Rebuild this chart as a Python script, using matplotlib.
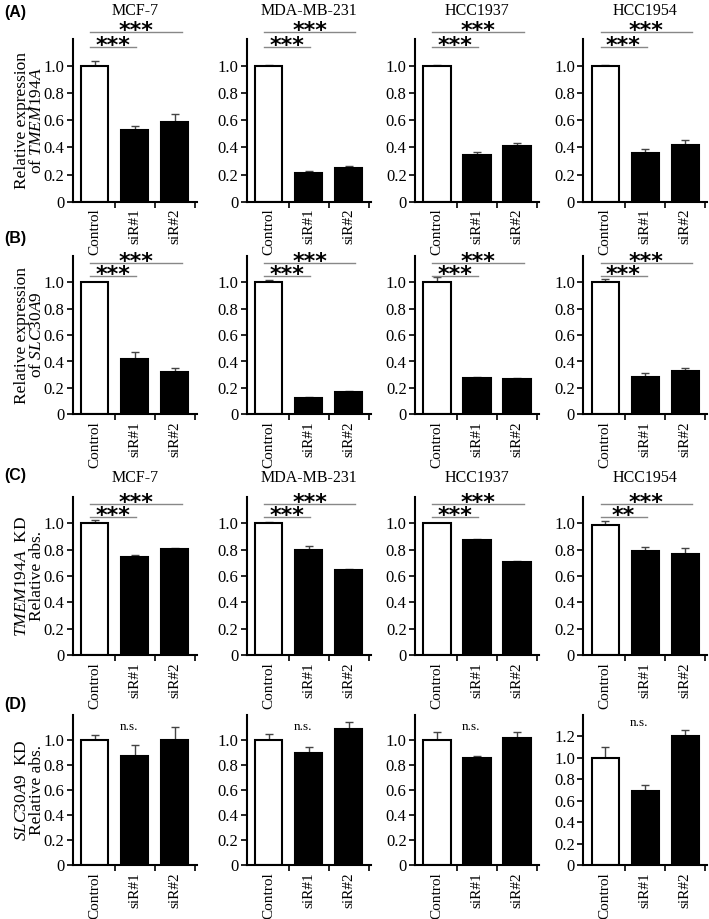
import numpy as np
import matplotlib
matplotlib.use("Agg")
import matplotlib.pyplot as plt
from matplotlib.ticker import FixedLocator, FixedFormatter

plt.rcParams['font.family'] = ['Liberation Serif', 'DejaVu Serif']
plt.rcParams['mathtext.fontset'] = 'custom'
plt.rcParams['mathtext.rm'] = 'Liberation Serif'
plt.rcParams['mathtext.it'] = 'Liberation Serif:italic'

# ---------- data ----------
cell_lines = ["MCF-7", "MDA-MB-231", "HCC1937", "HCC1954"]
groups = ["Control", "siR#1", "siR#2"]

# (A) relative expression of TMEM194A
tmem_expr = [[1.0, 0.53, 0.59], [1.0, 0.215, 0.25], [1.0, 0.345, 0.41], [1.0, 0.36, 0.415]]
tmem_expr_err = [[0.04, 0.03, 0.06], [0.01, 0.01, 0.01], [0.01, 0.02, 0.02], [0.01, 0.025, 0.04]]
# (B) relative expression of SLC30A9
slc_expr = [[1.0, 0.42, 0.32], [1.0, 0.12, 0.167], [1.0, 0.275, 0.265], [1.0, 0.28, 0.33]]
slc_expr_err = [[0.005, 0.05, 0.03], [0.02, 0.01, 0.01], [0.04, 0.01, 0.01], [0.023, 0.03, 0.02]]
# (C) relative abs., TMEM194A KD
tmem_abs = [[1.0, 0.742, 0.805], [1.0, 0.80, 0.645], [1.0, 0.873, 0.709], [0.99, 0.79, 0.77]]
tmem_abs_err = [[0.025, 0.018, 0.01], [0.01, 0.03, 0.01], [0.005, 0.01, 0.008], [0.03, 0.03, 0.04]]
# (D) relative abs., SLC30A9 KD
slc_abs = [[1.0, 0.87, 1.0], [1.0, 0.90, 1.09], [1.0, 0.86, 1.02], [1.0, 0.69, 1.2]]
slc_abs_err = [[0.037, 0.093, 0.107], [0.045, 0.048, 0.053], [0.067, 0.016, 0.048], [0.097, 0.056, 0.063]]

# significance: (control vs siR#1, control vs siR#2)
sig_a = [("***", "***")] * 4
sig_b = [("***", "***")] * 4
sig_c = [("***", "***"), ("***", "***"), ("***", "***"), ("**", "***")]
sig_d = ["n.s."] * 4

rows = [
    dict(letter="(A)", vals=tmem_expr, errs=tmem_expr_err, sig=sig_a, title_pad=17,
         ylabel="Relative expression\nof $\\mathit{TMEM194A}$", bottom=201.7, top=38.9,
         lines=(1.142, 1.248), letter_y=12),
    dict(letter="(B)", vals=slc_expr, errs=slc_expr_err, sig=sig_b, title_pad=None,
         ylabel="Relative expression\nof $\\mathit{SLC30A9}$", bottom=414.3, top=255.9,
         lines=(1.048, 1.144), letter_y=238),
    dict(letter="(C)", vals=tmem_abs, errs=tmem_abs_err, sig=sig_c, title_pad=11,
         ylabel="$\\mathit{TMEM194A}$  KD\nRelative abs.", bottom=655.0, top=497.0,
         lines=(1.05, 1.147), letter_y=475),
    dict(letter="(D)", vals=slc_abs, errs=slc_abs_err, sig=sig_d, title_pad=None,
         ylabel="$\\mathit{SLC30A9}$  KD\nRelative abs.", bottom=865.0, top=715.0,
         lines=None, letter_y=705),
]

W, H = 709, 919
col_left = [72.7, 246.7, 415.0, 583.3]
col_width = 124.0

fig = plt.figure(figsize=(W / 100, H / 100), dpi=100)

x = np.arange(len(groups))
for r, row in enumerate(rows):
    for c, name in enumerate(cell_lines):
        ax = fig.add_axes([col_left[c] / W, 1 - row["bottom"] / H,
                           col_width / W, (row["bottom"] - row["top"]) / H])
        vals = row["vals"][c]
        errs = row["errs"][c]
        ax.bar(x, vals, width=0.68, color=["white", "black", "black"],
               edgecolor="black", linewidth=1.5, zorder=2)
        ax.errorbar(x, vals, yerr=[np.zeros(3), errs], fmt="none", ecolor="#444444",
                    elinewidth=1.0, capsize=3, capthick=1.0, zorder=1)

        ymax = 1.2
        ticks = [0, 0.2, 0.4, 0.6, 0.8, 1.0]
        if r == 3 and c == 3:
            ymax = 1.4
            ticks = ticks + [1.2]
        ax.set_ylim(0, ymax)
        ax.set_xlim(-0.55, 2.55)
        ax.yaxis.set_major_locator(FixedLocator(ticks))
        ax.yaxis.set_major_formatter(FixedFormatter(["0" if t == 0 else f"{t:.1f}" for t in ticks]))
        ax.set_xticks(x)
        ax.set_xticklabels(groups, rotation=90)
        ax.set_xticks([0.5, 1.5, 2.5], minor=True)
        ax.tick_params(axis="x", which="major", length=0, pad=5, labelsize=11)
        ax.tick_params(axis="x", which="minor", length=4, width=1.2, direction="out")
        ax.tick_params(axis="y", length=4, width=1.2, direction="out", labelsize=12, pad=2)
        for s in ["top", "right"]:
            ax.spines[s].set_visible(False)
        for s in ["left", "bottom"]:
            ax.spines[s].set_linewidth(1.5)

        if row["title_pad"] is not None:
            ax.set_title(name, fontsize=11.5, pad=row["title_pad"])

        if row["lines"] is not None:
            y_short, y_long = row["lines"]
            short_lab, long_lab = row["sig"][c]
            for (x1, y, lab) in [(1.03, y_short, short_lab), (2.17, y_long, long_lab)]:
                ax.plot([-0.12, x1], [y, y], color="#888888", lw=1.0, clip_on=False)
                ax.annotate(lab, xy=((-0.12 + x1) / 2, y), xytext=(0, -3.5),
                            textcoords="offset points", ha="center", va="baseline",
                            fontsize=16, family="DejaVu Sans", fontweight="bold",
                            annotation_clip=False)
        else:
            top_lab = 1.33 if (c == 3) else 1.106
            ax.text(0.85, top_lab, row["sig"][c], ha="center", va="center", fontsize=9.5)

        if c == 0:
            ax.set_ylabel(row["ylabel"], fontsize=12.5, linespacing=0.95)
            ax.yaxis.set_label_coords(-0.22, 0.5)

    fig.text(4 / W, 1 - row["letter_y"] / H, row["letter"],
             fontsize=11.5, fontweight="bold", family="Liberation Sans", va="center")

fig.savefig("out.png", dpi=100)
